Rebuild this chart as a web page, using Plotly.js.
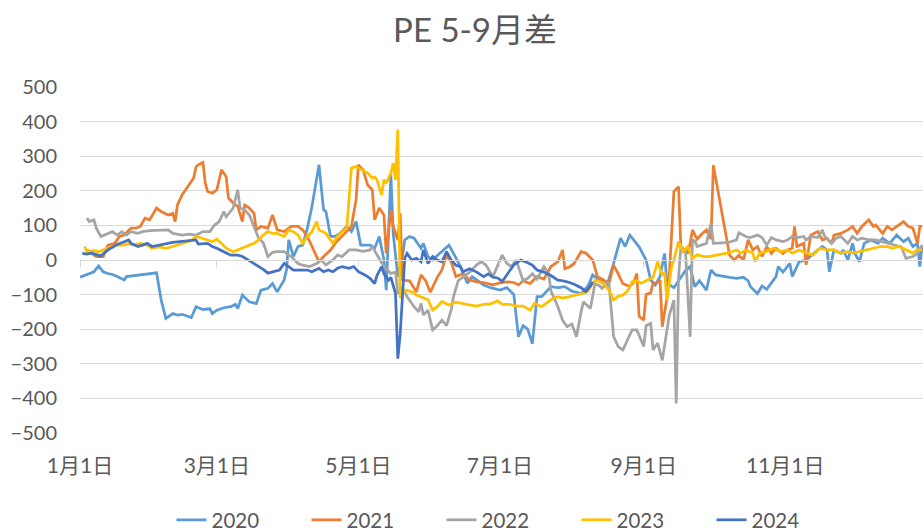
<!DOCTYPE html>
<html><head><meta charset="utf-8">
<script src="https://cdn.plot.ly/plotly-3.0.1.min.js"></script>
<style>html,body{margin:0;padding:0;background:#fff}#chart{width:923px;height:531px}</style>
</head><body><div id="chart"></div>
<script>
// Day-of-year (non-leap calendar) and value pairs
const seriesNames = ['2020', '2021', '2022', '2023', '2024'];
const seriesColors = ['#5B9BD5', '#ED7D31', '#A5A5A5', '#FFC000', '#4472C4'];

const days2020 = [1,4,7,9,11,13,15,17,20,21,34,36,38,41,43,45,49,51,54,57,58,60,63,66,68,69,71,74,77,79,82,84,86,89,90,91,93,95,97,99,101,104,106,107,109,111,113,116,118,120,122,126,128,130,132,133,135,136,138,140,141,143,145,148,149,151,153,156,160,162,165,168,170,175,178,182,185,188,190,192,194,196,198,200,204,207,210,213,217,220,222,225,228,231,234,236,238,240,242,245,247,249,251,253,254,257,260,262,264,266,268,271,273,275,281,284,287,289,290,292,293,295,297,301,302,304,307,308,311,314,317,319,321,323,324,326,329,330,332,334,335,337,339,342,345,347,350,353,356,358,360,362,363,364];
const vals2020 = [-50,-43,-34,-17,-34,-39,-42,-48,-58,-48,-37,-116,-169,-155,-159,-157,-166,-135,-143,-141,-155,-145,-138,-135,-128,-140,-101,-121,-126,-87,-82,-68,-92,-58,-29,58,10,39,43,92,155,275,145,140,68,68,77,97,82,111,43,43,34,68,0,-87,246,77,-48,10,58,68,63,34,48,10,0,19,43,19,-19,-67,-48,-72,-80,-87,-80,-100,-222,-190,-200,-242,-106,-106,-77,-80,-77,-90,-97,-75,-43,-58,-77,-10,63,39,72,55,38,0,-58,-72,-48,19,-67,-80,-48,-30,-19,-77,-60,-87,-29,-43,-50,-53,-50,-60,-77,-91,-97,-75,-85,-48,-19,-35,-10,-48,-5,0,19,29,39,29,-34,29,19,29,0,48,19,-5,48,58,48,63,48,72,53,63,39,48,-19,43];

const days2021 = [4,6,8,11,13,16,18,20,23,25,27,29,31,34,36,39,41,42,43,45,48,50,51,52,54,55,56,58,60,62,64,65,67,69,71,72,74,76,77,79,82,84,86,89,92,95,97,99,101,104,106,109,111,114,116,118,120,121,123,125,127,128,130,132,133,135,136,138,139,140,143,146,148,150,152,155,157,159,161,163,166,169,172,175,179,182,185,188,190,192,195,198,201,204,207,209,210,212,214,217,219,222,224,226,229,231,233,235,238,240,241,242,244,245,247,248,250,251,252,254,255,257,259,260,263,264,265,267,269,271,273,274,281,283,285,287,289,291,293,295,297,299,301,304,306,308,309,310,313,314,316,319,321,323,325,326,329,332,334,336,338,341,343,344,347,349,351,354,356,358,360,362,363,364];
const vals2021 = [29,20,10,10,43,48,68,72,92,92,97,121,116,150,140,130,135,111,159,188,217,237,269,275,282,222,198,193,203,261,241,179,165,155,111,159,150,135,87,97,92,130,87,82,97,97,87,68,39,-5,10,29,48,68,82,97,174,275,261,217,203,116,150,130,19,145,97,58,135,-58,-60,-92,-43,-60,-93,-50,-29,14,-5,-48,-40,-58,-63,-65,-72,-66,-63,-65,-72,-60,-68,-48,-55,-19,-5,29,-25,-20,-10,24,20,0,-48,-55,-68,-15,-40,-68,-77,-60,-39,-163,-174,-100,-95,-67,-65,-58,-193,-110,-50,198,212,39,19,48,87,60,75,87,60,274,14,0,14,0,58,29,39,10,39,19,34,19,29,34,97,39,48,-14,72,82,58,63,48,72,77,87,97,77,97,116,97,101,77,97,87,101,111,97,92,48,97,97];

const days2022 = [4,5,7,8,10,13,15,17,19,21,23,26,28,31,39,41,45,48,51,54,57,59,61,63,64,67,69,70,72,74,76,78,80,82,84,86,89,92,95,97,100,103,105,107,110,112,114,117,120,123,126,127,129,132,135,137,138,140,142,145,147,148,149,151,153,155,157,159,161,162,164,166,169,172,174,176,179,183,185,187,189,192,194,196,198,201,203,204,207,209,211,213,215,217,218,221,223,225,226,228,229,231,233,235,237,239,241,244,245,247,248,250,252,254,255,257,258,259,260,262,264,265,266,267,270,271,273,274,280,284,285,288,290,293,295,297,299,301,304,306,308,310,313,314,316,319,321,322,325,327,329,332,334,336,338,341,344,347,350,353,355,357,360,362,364];
const vals2022 = [121,111,116,92,68,77,82,72,82,72,82,77,82,85,87,77,72,75,72,82,82,101,111,140,125,150,203,150,145,130,97,63,50,10,22,24,24,10,-10,-15,-19,-10,0,-14,0,14,10,29,29,25,29,39,15,-19,-39,-35,-97,-80,-106,-135,-150,-125,-159,-145,-202,-190,-174,-190,-144,-106,-60,-50,-35,-14,-5,-15,-48,14,-10,-19,0,-60,-53,-40,-55,-19,-40,-90,-135,-174,-193,-185,-222,-150,-121,-140,-68,-75,-82,-68,-67,-221,-250,-260,-230,-202,-202,-250,-190,-183,-260,-240,-290,-200,-160,-116,-415,-50,39,25,-222,58,55,39,45,48,106,48,50,58,79,68,65,72,65,43,65,58,53,58,68,65,68,58,68,65,87,68,48,63,68,48,68,58,63,58,58,53,48,43,38,5,10,19,43];

const days2023 = [3,4,7,9,11,13,15,17,20,22,24,27,30,32,35,38,41,43,46,49,51,54,56,58,60,62,64,67,69,71,73,76,78,80,82,84,86,89,91,93,95,97,99,101,103,104,107,109,110,112,114,116,118,120,123,125,127,128,129,131,132,133,135,136,137,138,139,140,142,145,146,148,151,153,155,157,160,163,166,169,172,175,178,181,183,186,189,192,195,197,200,202,204,207,209,212,215,218,220,223,225,227,229,231,233,235,237,239,241,243,245,248,250,252,253,254,256,257,259,261,263,265,267,270,272,276,280,284,286,288,291,292,294,297,300,303,306,308,311,314,317,320,323,326,329,332,334,337,340,343,346,349,351,354,357,360,362,364];
const vals2023 = [39,24,27,24,29,34,39,43,43,48,43,48,43,34,38,34,39,43,48,56,68,63,58,53,60,48,34,24,29,34,39,48,58,72,82,77,77,68,87,82,72,48,68,82,111,87,77,58,48,68,82,92,266,270,260,251,237,240,232,188,232,222,251,280,232,377,-110,-97,-87,-95,-101,-106,-115,-145,-135,-120,-130,-122,-127,-130,-133,-128,-127,-118,-128,-128,-133,-133,-145,-125,-135,-125,-115,-106,-110,-106,-101,-96,-90,-58,-62,-70,-87,-115,-105,-101,-90,-63,-60,-67,-60,-50,-5,-45,-35,-116,-20,0,53,24,39,5,15,10,10,15,20,29,20,29,20,-5,20,25,34,24,29,20,29,20,14,34,29,29,20,24,20,24,29,34,39,39,34,39,29,20,29,29];

const days2024 = [2,4,6,8,10,13,15,17,19,22,23,26,28,30,32,35,38,41,44,48,51,52,56,58,60,63,66,69,71,74,77,80,82,84,87,89,91,93,96,99,101,104,106,108,110,112,114,117,119,121,124,126,128,129,131,132,134,135,137,138,139,140,141,142,144,146,148,149,151,153,155,157,159,161,163,165,166,169,172,175,177,179,181,183,186,188,190,191,194,196,198,201,204,207,209,211,214,217,219,221,222];
const vals2024 = [19,17,20,15,12,29,38,45,50,58,48,39,43,48,39,43,48,51,53,56,58,46,48,39,34,24,14,14,10,-2,-14,-27,-38,-34,-29,-10,-19,-29,-29,-29,-34,-24,-34,-29,-34,-24,-19,-24,-19,-34,-44,-53,-68,-45,-19,-40,-58,-50,-97,-285,-215,-97,5,19,0,5,-5,29,-10,10,0,-5,24,0,-15,-19,-34,-25,-35,-48,-40,-50,-52,-62,-34,-14,-5,0,-8,-15,-29,-35,-45,-58,-60,-63,-70,-80,-91,-75,-63];

const seriesDays = [days2020, days2021, days2022, days2023, days2024];
const seriesVals = [vals2020, vals2021, vals2022, vals2023, vals2024];

const FONT = 'Lato, "Noto Sans CJK SC", sans-serif';
const GREY = '#595959';
function toDate(d) {
  const t = new Date(Date.UTC(2021, 0, 1) + (d - 1) * 86400000);
  return t.toISOString().slice(0, 10);
}
const xRange = ['2021-01-01', '2021-12-30 09:00'];

const traces = seriesNames.map((n, i) => ({
  type: 'scatter', mode: 'lines', name: n,
  x: seriesDays[i].map(toDate), y: seriesVals[i],
  line: {color: seriesColors[i], width: 2.75},
  hoverinfo: 'skip'
}));
traces.push({type: 'scatter', mode: 'lines', x: [xRange[0]], y: [null], xaxis: 'x2', yaxis: 'y', showlegend: false, hoverinfo: 'skip'});

const layout = {
  width: 923, height: 531,
  margin: {l: 80, r: 0, t: 87, b: 98},
  paper_bgcolor: '#ffffff', plot_bgcolor: '#ffffff',
  font: {family: FONT, color: GREY, size: 20},
  title: {text: 'PE 5-9月差', font: {family: FONT, size: 33, color: GREY},
          x: 475/923, xref: 'container', xanchor: 'center', y: 1 - 30/531, yref: 'container', yanchor: 'middle'},
  xaxis: {type: 'date', range: xRange, tick0: '2021-01-01', dtick: 'M2', tickformat: '%-m月%-d日',
          showgrid: false, zeroline: false, showline: false, ticks: '', ticklabelstandoff: 18,
          tickfont: {family: FONT, size: 21, color: GREY}},
  xaxis2: {type: 'date', overlaying: 'x', anchor: 'free', position: 0.5, range: xRange,
           tick0: '2021-01-01', dtick: 'M2', showticklabels: false, ticks: 'outside', ticklen: 6,
           tickwidth: 1, tickcolor: '#D9D9D9', showline: true, linecolor: '#D9D9D9', linewidth: 1,
           showgrid: false, zeroline: false},
  yaxis: {range: [-500, 500], tick0: 0, dtick: 100, showgrid: true, gridcolor: '#D9D9D9', gridwidth: 1,
          zeroline: false, showline: false, ticks: '', ticklabelstandoff: 22,
          tickfont: {family: FONT, size: 20, color: GREY}},
  legend: {orientation: 'h', x: 509/923, xref: 'container', xanchor: 'center',
           y: 1 - 520/531, yref: 'container', yanchor: 'middle',
           font: {family: FONT, size: 20.5, color: GREY}, entrywidth: 90, entrywidthmode: 'pixels',
           bgcolor: 'rgba(0,0,0,0)'},
  showlegend: true
};
Plotly.newPlot('chart', traces, layout, {displayModeBar: false, staticPlot: true});
</script>
</body></html>
